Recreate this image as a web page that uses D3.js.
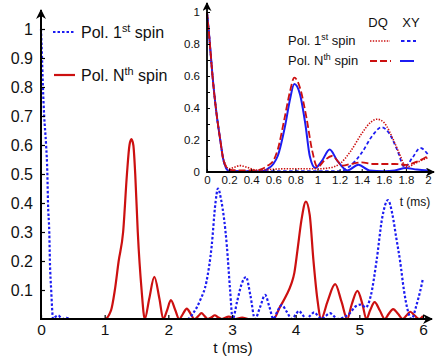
<!DOCTYPE html>
<html>
<head>
<meta charset="utf-8">
<script src="https://cdn.jsdelivr.net/npm/d3@7"></script>
<style>
  body { margin: 0; background: #fff; }
  text { font-family: "Liberation Sans", Arial, sans-serif; fill: #111; }
</style>
</head>
<body>
<svg id="chart" width="435" height="360"></svg>
<script>
// main panel, t in ms
const main1stSpin = [[0,1],[0.016,0.9],[0.03,0.8],[0.05,0.7],[0.08,0.6],[0.1,0.5],[0.11,0.4],[0.13,0.3],[0.14,0.2],[0.16,0.1],[0.19,0],[0.23,0.008],[0.27,0.012],[0.31,0.005],[0.34,0],[0.4,0.004],[0.46,0],[2.3,0],[2.39,0.02],[2.5,0.065],[2.6,0.13],[2.68,0.25],[2.74,0.4],[2.78,0.45],[2.83,0.41],[2.92,0.25],[2.97,0.1],[3.01,0],[3.08,0.06],[3.15,0.12],[3.22,0.145],[3.29,0.08],[3.36,0],[3.44,0.04],[3.52,0.083],[3.59,0.04],[3.65,0],[3.71,0.025],[3.78,0.048],[3.86,0.025],[3.94,0],[4.0,0.015],[4.05,0.028],[4.11,0.014],[4.17,0],[4.23,0.012],[4.29,0.023],[4.35,0.011],[4.41,0],[4.47,0.01],[4.54,0.02],[4.6,0.01],[4.66,0],[4.75,0.005],[4.85,0.02],[4.95,0.045],[5.03,0.05],[5.1,0.04],[5.18,0.08],[5.27,0.2],[5.36,0.35],[5.45,0.41],[5.52,0.36],[5.58,0.28],[5.64,0.2],[5.7,0.1],[5.76,0.03],[5.82,0],[5.9,0.05],[5.96,0.1],[6.0,0.14]];
const mainNthSpin = [[0,0],[1.0,0],[1.1,0.03],[1.16,0.1],[1.22,0.2],[1.29,0.3],[1.35,0.5],[1.39,0.6],[1.42,0.62],[1.45,0.6],[1.48,0.5],[1.52,0.3],[1.58,0.1],[1.63,0],[1.7,0.07],[1.78,0.145],[1.86,0.07],[1.92,0],[1.98,0.03],[2.04,0.065],[2.11,0.03],[2.17,0],[2.23,0.018],[2.29,0.036],[2.35,0.018],[2.41,0],[2.47,0.01],[2.52,0.02],[2.57,0.01],[2.62,0],[2.68,0.006],[2.73,0.013],[2.78,0.006],[2.84,0],[2.95,0.008],[3.05,0],[3.16,0.005],[3.26,0],[3.65,0],[3.75,0.04],[3.85,0.08],[3.93,0.12],[3.98,0.16],[4.03,0.24],[4.09,0.34],[4.16,0.405],[4.22,0.36],[4.28,0.2],[4.34,0.07],[4.4,0],[4.5,0.06],[4.62,0.12],[4.72,0.06],[4.81,0],[4.88,0.05],[4.97,0.097],[5.05,0.05],[5.11,0],[5.17,0.03],[5.24,0.058],[5.32,0.03],[5.4,0],[5.46,0.017],[5.53,0.034],[5.61,0.017],[5.68,0],[5.74,0.012],[5.8,0.025],[5.87,0.012],[5.94,0],[6.0,0.01]];

// inset, DQ vs XY
const insetDq1st = [[0,1],[0.02,0.85],[0.05,0.6],[0.08,0.4],[0.12,0.2],[0.15,0.08],[0.2,0.02],[0.25,0.03],[0.3,0.04],[0.36,0.03],[0.45,0.012],[0.55,0.015],[0.7,0.02],[0.9,0.02],[1.0,0.02],[1.1,0.025],[1.2,0.05],[1.3,0.13],[1.4,0.24],[1.48,0.31],[1.54,0.33],[1.6,0.31],[1.7,0.18],[1.75,0.1],[1.8,0.03],[1.9,0.06],[2.0,0.09]];
const insetXy1st = [[0,1],[0.02,0.85],[0.05,0.6],[0.08,0.4],[0.12,0.2],[0.15,0.07],[0.2,0.005],[0.3,0.005],[1.2,0.005],[1.3,0.04],[1.4,0.12],[1.5,0.23],[1.58,0.28],[1.65,0.24],[1.72,0.14],[1.79,0.03],[1.86,0.09],[1.93,0.15],[2.0,0.11]];
const insetDqNth = [[0,1],[0.02,0.85],[0.05,0.6],[0.08,0.4],[0.12,0.2],[0.15,0.07],[0.2,0.015],[0.3,0.01],[0.45,0.01],[0.5,0.02],[0.55,0.04],[0.6,0.07],[0.64,0.14],[0.7,0.33],[0.75,0.5],[0.79,0.59],[0.84,0.53],[0.9,0.34],[0.95,0.14],[1.0,0.03],[1.06,0.07],[1.13,0.1],[1.23,0.04],[1.3,0.05],[1.4,0.06],[1.5,0.05],[1.6,0.05],[1.7,0.05],[1.8,0.045],[1.9,0.065],[2.0,0.1]];
const insetXyNth = [[0,1],[0.02,0.85],[0.05,0.6],[0.08,0.4],[0.12,0.2],[0.15,0.07],[0.2,0.005],[0.5,0.005],[0.55,0.02],[0.6,0.05],[0.64,0.1],[0.71,0.3],[0.75,0.45],[0.79,0.55],[0.84,0.49],[0.89,0.3],[0.93,0.1],[0.98,0.025],[1.04,0.07],[1.11,0.14],[1.18,0.07],[1.27,0.01],[1.37,0.045],[1.47,0.01],[1.6,0.005],[1.7,0.01],[1.8,0.025],[1.9,0.015],[2.0,0.01]];

const mainXTicks = [0, 1, 2, 3, 4, 5, 6];
const mainYTicks = [0.1, 0.2, 0.3, 0.4, 0.5, 0.6, 0.7, 0.8, 0.9, 1];
const insetXTicks = [0, 0.2, 0.4, 0.6, 0.8, 1, 1.2, 1.4, 1.6, 1.8, 2];
const insetYTicks = [0, 0.1, 0.2, 0.3, 0.4, 0.5, 0.6, 0.7, 0.8, 0.9, 1];

const blue = "#1c1cf2";
const red = "#cc1010";

const svg = d3.select("#chart");

svg.append("defs").append("marker")
  .attr("id", "arrow")
  .attr("viewBox", "0 0 10 10")
  .attr("refX", 9).attr("refY", 5)
  .attr("markerWidth", 5).attr("markerHeight", 5)
  .attr("orient", "auto")
  .append("path")
  .attr("d", "M0,0 L10,5 L0,10 L3,5 Z")
  .attr("fill", "#000");

// ---------- main panel
const x = d3.scaleLinear().domain([0, 6]).range([41, 423]);
const y = d3.scaleLinear().domain([0, 1]).range([319, 29]);

const line = (sx, sy) => d3.line()
  .x(d => sx(d[0]))
  .y(d => sy(d[1]))
  .curve(d3.curveMonotoneX);

svg.append("path")
  .datum(mainNthSpin)
  .attr("fill", "none")
  .attr("stroke", red)
  .attr("stroke-width", 2.2)
  .attr("d", line(x, y));

svg.append("path")
  .datum(main1stSpin)
  .attr("fill", "none")
  .attr("stroke", blue)
  .attr("stroke-width", 2.2)
  .attr("stroke-dasharray", "2.5,2")
  .attr("d", line(x, y));

const gx = svg.append("g")
  .attr("transform", "translate(0," + y(0) + ")")
  .call(d3.axisBottom(x).tickValues(mainXTicks).tickFormat(d3.format("d"))
    .tickSizeInner(-4).tickSizeOuter(0).tickPadding(5));
gx.select(".domain").remove();
gx.selectAll("text").style("font-size", "15.5px");
gx.selectAll("line").attr("stroke-width", 1.2);

const gy = svg.append("g")
  .attr("transform", "translate(" + x(0) + ",0)")
  .call(d3.axisLeft(y).tickValues(mainYTicks).tickFormat(d3.format("~g"))
    .tickSizeInner(-4).tickSizeOuter(0).tickPadding(8));
gy.select(".domain").remove();
gy.selectAll("text").style("font-size", "16px");
gy.selectAll("line").attr("stroke-width", 1.2);

svg.append("line")
  .attr("x1", x(0)).attr("y1", y(0)).attr("x2", 432).attr("y2", y(0))
  .attr("stroke", "#000").attr("stroke-width", 2)
  .attr("marker-end", "url(#arrow)");
svg.append("line")
  .attr("x1", x(0)).attr("y1", y(0) + 1).attr("x2", x(0)).attr("y2", 10)
  .attr("stroke", "#000").attr("stroke-width", 2)
  .attr("marker-end", "url(#arrow)");

svg.append("text")
  .attr("x", 233).attr("y", 353)
  .attr("text-anchor", "middle")
  .style("font-size", "15.5px")
  .text("t (ms)");

// main legend
function legendLabel(g, lx, ly, sup, size) {
  const t = g.append("text").attr("x", lx).attr("y", ly).style("font-size", size + "px");
  t.append("tspan").text(sup === "st" ? "Pol. 1" : "Pol. N");
  t.append("tspan").attr("dy", -size * 0.38).style("font-size", (size * 0.68) + "px").text(sup);
  t.append("tspan").attr("dy", size * 0.38).text(" spin");
}

svg.append("line")
  .attr("x1", 53).attr("x2", 75).attr("y1", 32).attr("y2", 32)
  .attr("stroke", blue).attr("stroke-width", 2.2).attr("stroke-dasharray", "2.5,2");
legendLabel(svg, 81, 38, "st", 16);
svg.append("line")
  .attr("x1", 54).attr("x2", 75).attr("y1", 75).attr("y2", 75)
  .attr("stroke", red).attr("stroke-width", 2.2);
legendLabel(svg, 81, 81, "th", 16);

// ---------- inset
const inset = svg.append("g");
inset.append("rect")
  .attr("x", 194).attr("y", 0).attr("width", 241).attr("height", 186)
  .attr("fill", "#fff");

const ix = d3.scaleLinear().domain([0, 2]).range([207, 428]);
const iy = d3.scaleLinear().domain([0, 1]).range([172, 12]);

const insetSeries = [
  { data: insetXyNth, color: blue, dash: null, w: 2 },
  { data: insetXy1st, color: blue, dash: "3.5,2.5", w: 1.8 },
  { data: insetDqNth, color: red, dash: "7,3", w: 1.8 },
  { data: insetDq1st, color: red, dash: "1.4,1.4", w: 1.6 }
];
insetSeries.forEach(s => {
  inset.append("path")
    .datum(s.data)
    .attr("fill", "none")
    .attr("stroke", s.color)
    .attr("stroke-width", s.w)
    .attr("stroke-dasharray", s.dash)
    .attr("d", line(ix, iy));
});

const igx = inset.append("g")
  .attr("transform", "translate(0," + iy(0) + ")")
  .call(d3.axisBottom(ix).tickValues(insetXTicks).tickFormat(d3.format("~g"))
    .tickSizeInner(-3).tickSizeOuter(0).tickPadding(4));
igx.select(".domain").remove();
igx.selectAll("text").style("font-size", "11.5px");

const igy = inset.append("g")
  .attr("transform", "translate(" + ix(0) + ",0)")
  .call(d3.axisLeft(iy).tickValues(insetYTicks)
    .tickFormat(d => Math.round(d * 10) % 2 === 0 ? d3.format("~g")(d) : "")
    .tickSizeInner(-3).tickSizeOuter(0).tickPadding(7));
igy.select(".domain").remove();
igy.selectAll("text").style("font-size", "11.5px");

inset.append("line")
  .attr("x1", ix(0)).attr("y1", iy(0)).attr("x2", 434).attr("y2", iy(0))
  .attr("stroke", "#000").attr("stroke-width", 1.8)
  .attr("marker-end", "url(#arrow)");
inset.append("line")
  .attr("x1", ix(0)).attr("y1", iy(0) + 1).attr("x2", ix(0)).attr("y2", 3)
  .attr("stroke", "#000").attr("stroke-width", 1.8)
  .attr("marker-end", "url(#arrow)");

inset.append("text")
  .attr("x", 415).attr("y", 206)
  .attr("text-anchor", "middle")
  .style("font-size", "12px")
  .text("t (ms)");

// inset legend
inset.append("text").attr("x", 378).attr("y", 27).attr("text-anchor", "middle")
  .style("font-size", "13px").text("DQ");
inset.append("text").attr("x", 411).attr("y", 27).attr("text-anchor", "middle")
  .style("font-size", "13px").text("XY");
legendLabel(inset, 288, 45, "st", 13);
legendLabel(inset, 288, 65, "th", 13);

const keys = [
  { x1: 370, x2: 390, yy: 41, color: red, dash: "1.4,1.4", w: 1.6 },
  { x1: 401, x2: 416, yy: 41, color: blue, dash: "3.5,2.5", w: 1.8 },
  { x1: 370, x2: 391, yy: 61, color: red, dash: "7,3", w: 1.8 },
  { x1: 400, x2: 414, yy: 61, color: blue, dash: null, w: 2 }
];
keys.forEach(k => {
  inset.append("line")
    .attr("x1", k.x1).attr("x2", k.x2).attr("y1", k.yy).attr("y2", k.yy)
    .attr("stroke", k.color).attr("stroke-width", k.w)
    .attr("stroke-dasharray", k.dash);
});
</script>
</body>
</html>
